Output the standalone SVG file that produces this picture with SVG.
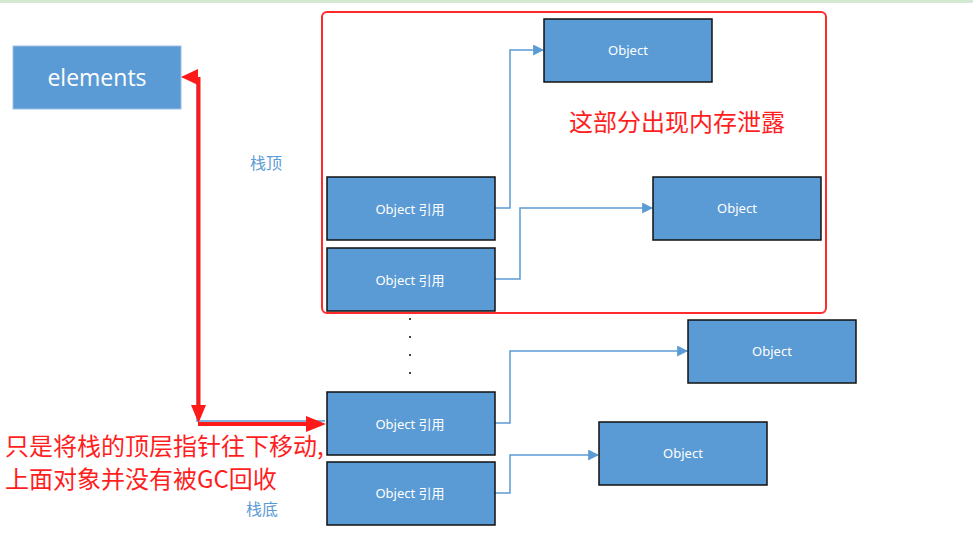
<svg xmlns="http://www.w3.org/2000/svg" width="973" height="540" viewBox="0 0 973 540">
<defs>
<style>
.box{fill:#5b9bd5;stroke:#111;stroke-width:1.5}
.lbl{fill:#fff;font-family:"Noto Sans","Noto Sans CJK SC",sans-serif;font-size:13px;text-anchor:middle;dominant-baseline:central}
.conn{fill:none;stroke:#5b9bd5;stroke-width:1.5}
.red{fill:#ff1e1e;font-family:"Noto Sans CJK SC",sans-serif}
.blue{fill:#5b9bd5;font-family:"Noto Sans CJK SC",sans-serif;font-size:16px}
</style>
<marker id="ab" viewBox="0 0 10 10" refX="9" refY="5" markerWidth="11" markerHeight="11" markerUnits="userSpaceOnUse" orient="auto"><path d="M0,0L10,5L0,10z" fill="#5b9bd5"/></marker>
</defs>
<rect x="0" y="0" width="973" height="540" fill="#fff"/>
<rect x="0" y="0" width="973" height="3" fill="#d3e9d3"/>

<g id="leak-region">
<rect x="322" y="12" width="504" height="301" rx="5" fill="none" stroke="#ff2a2a" stroke-width="2"/>
<text class="red" x="677" y="131" font-size="24" text-anchor="middle">这部分出现内存泄露</text>
</g>

<g id="connectors">
<path class="conn" d="M495,208H510V50H543" marker-end="url(#ab)"/>
<path class="conn" d="M495,279H520V208H652" marker-end="url(#ab)"/>
<path class="conn" d="M495,423H510V351H687" marker-end="url(#ab)"/>
<path class="conn" d="M495,493H510V455H598" marker-end="url(#ab)"/>
<path class="conn" d="M182,77H197V421H325"/>
<g id="red-arrow" fill="#ff1a1a" stroke="none">
<rect x="196.5" y="77" width="4" height="332"/>
<path d="M191,405L198.5,423L206,405z"/>
<path d="M181,77L198,69L198,85z"/>
<rect x="198" y="422" width="112" height="4"/>
<path d="M306,416L326,424L306,432z"/>
</g>
</g>

<g id="elements">
<rect x="13" y="46" width="168" height="63" fill="#5b9bd5" stroke="#9dbfe3" stroke-width="1"/>
<text x="97" y="77" fill="#fff" font-family="'Open Sans','Noto Sans',sans-serif" font-size="23" text-anchor="middle" dominant-baseline="central">elements</text>
</g>

<g id="ref1"><rect class="box" x="327" y="177" width="168" height="63"/><text class="lbl" x="410" y="209">Object 引用</text></g>
<g id="ref2"><rect class="box" x="327" y="248" width="168" height="63"/><text class="lbl" x="410" y="280">Object 引用</text></g>
<g id="ref3"><rect class="box" x="327" y="392" width="168" height="63"/><text class="lbl" x="410" y="424">Object 引用</text></g>
<g id="ref4"><rect class="box" x="327" y="462" width="168" height="63"/><text class="lbl" x="410" y="493">Object 引用</text></g>

<g id="obj1"><rect class="box" x="544" y="19" width="168" height="63"/><text class="lbl" x="628" y="50">Object</text></g>
<g id="obj2"><rect class="box" x="653" y="177" width="168" height="63"/><text class="lbl" x="737" y="208">Object</text></g>
<g id="obj3"><rect class="box" x="688" y="320" width="168" height="63"/><text class="lbl" x="772" y="351">Object</text></g>
<g id="obj4"><rect class="box" x="599" y="422" width="168" height="63"/><text class="lbl" x="683" y="453">Object</text></g>

<g id="dots" fill="#444">
<rect x="409" y="318" width="2" height="2"/>
<rect x="409" y="336" width="2" height="2"/>
<rect x="409" y="354" width="2" height="2"/>
<rect x="409" y="372" width="2" height="2"/>
</g>

<g id="labels">
<text class="blue" x="250" y="169">栈顶</text>
<text class="blue" x="246" y="515">栈底</text>
<text class="red" x="5" y="455" font-size="24">只是将栈的顶层指针往下移动,</text>
<text class="red" x="5" y="488" font-size="24">上面对象并没有被GC回收</text>
</g>
</svg>
